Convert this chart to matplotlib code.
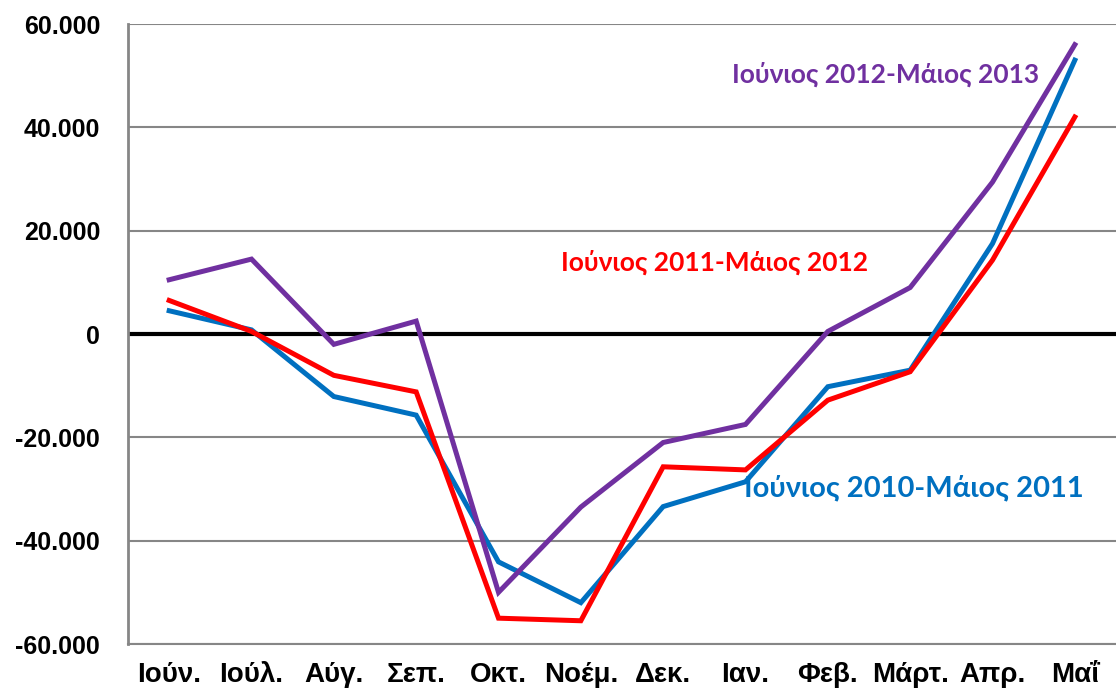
import matplotlib
matplotlib.use("Agg")
import matplotlib.pyplot as plt
from matplotlib.ticker import FuncFormatter

MONTHS = ["Ιούν.", "Ιούλ.", "Αύγ.", "Σεπ.", "Οκτ.", "Νοέμ.", "Δεκ.",
          "Ιαν.", "Φεβ.", "Μάρτ.", "Απρ.", "Μαΐ"]

# Ιούνιος 2010 - Μάιος 2011
S_2010 = [4500, 800, -12100, -15700, -44100, -52000, -33400, -28600,
          -10200, -7000, 17500, 53000]
# Ιούνιος 2011 - Μάιος 2012
S_2011 = [6500, 500, -8000, -11200, -55000, -55500, -25700, -26300,
          -12800, -7300, 14300, 42000]
# Ιούνιος 2012 - Μάιος 2013
S_2012 = [10500, 14500, -2000, 2500, -50000, -33500, -21000, -17500,
          500, 9000, 29400, 56000]

LABEL_2010 = "Ιούνιος 2010-Μάιος 2011"
LABEL_2011 = "Ιούνιος 2011-Μάιος 2012"
LABEL_2012 = "Ιούνιος 2012-Μάιος 2013"

YTICKS = [-60000, -40000, -20000, 0, 20000, 40000, 60000]

BLUE = "#0070C0"
RED = "#FF0000"
PURPLE = "#7030A0"

fig = plt.figure(figsize=(11.16, 6.96), dpi=100)
ax = fig.add_axes([0.1147, 0.0747, 0.8853, 0.8908])

x = list(range(len(MONTHS)))
for y in YTICKS:
    if y != 0:
        ax.axhline(y, color="#868686", linewidth=1.5, zorder=1)
ax.axhline(0, color="black", linewidth=3.0, zorder=2)

ax.plot(x, S_2010, color=BLUE, linewidth=3.6, zorder=3, solid_joinstyle="miter")
ax.plot(x, S_2011, color=RED, linewidth=3.6, zorder=4, solid_joinstyle="miter")
ax.plot(x, S_2012, color=PURPLE, linewidth=3.6, zorder=5, solid_joinstyle="miter")

tfont = dict(family=["Lato", "DejaVu Sans"], fontweight="bold",
             ha="center", va="center")
ax.text(8.70, 50300, LABEL_2012, color=PURPLE, fontsize=19, **tfont)
ax.text(6.63, 13900, LABEL_2011, color=RED, fontsize=19, **tfont)
ax.text(9.04, -29800, LABEL_2010, color=BLUE, fontsize=21, **tfont)

ax.set_xlim(-0.5, len(MONTHS) - 0.5)
ax.set_ylim(-60000, 60000)
ax.set_xticks(x)
ax.set_xticklabels(MONTHS)
ax.set_yticks(YTICKS)
ax.yaxis.set_major_formatter(FuncFormatter(lambda v, p: f"{int(v):,}".replace(",", ".")))

for lab in ax.get_xticklabels():
    lab.set_fontfamily("Liberation Sans")
    lab.set_fontweight("bold")
    lab.set_fontsize(20)
for lab in ax.get_yticklabels():
    lab.set_fontfamily("Liberation Sans")
    lab.set_fontweight("bold")
    lab.set_fontsize(18)

ax.tick_params(axis="both", length=0)
ax.tick_params(axis="y", pad=20)
ax.tick_params(axis="x", pad=13)
for side in ("top", "right"):
    ax.spines[side].set_visible(False)
ax.spines["left"].set_color("#868686")
ax.spines["left"].set_linewidth(2)
ax.spines["bottom"].set_color("#868686")
ax.spines["bottom"].set_linewidth(1.5)

fig.savefig("out.png", dpi=100)
